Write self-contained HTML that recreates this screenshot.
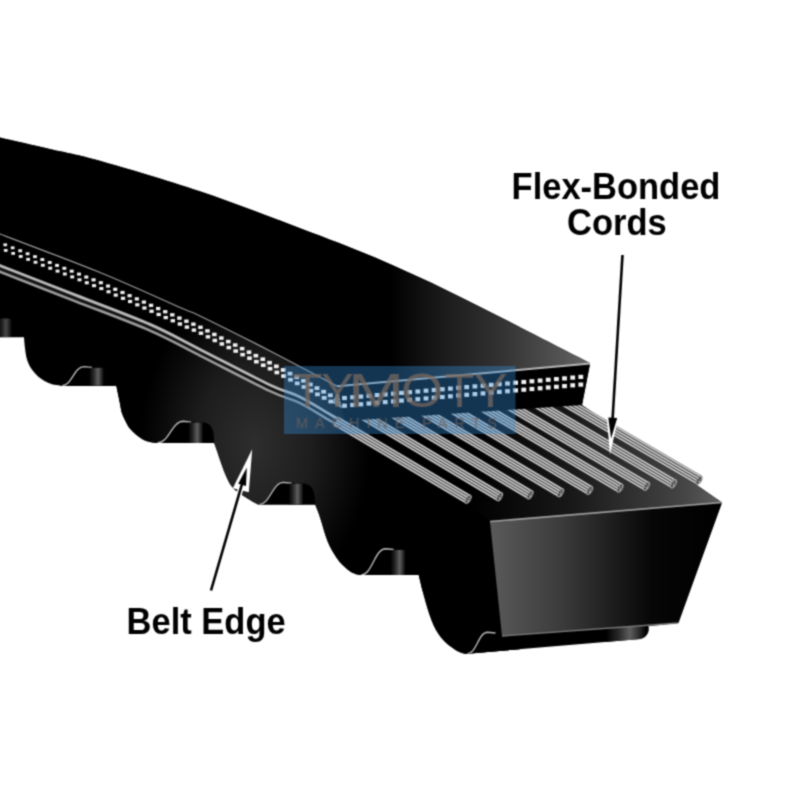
<!DOCTYPE html>
<html><head><meta charset="utf-8"><style>
html,body{margin:0;padding:0;background:#fff;}
body{width:800px;height:800px;overflow:hidden;position:relative;}
svg{position:absolute;left:0;top:0;}
.lbl{font-family:"Liberation Sans",sans-serif;font-weight:bold;fill:#000;}
.wm{font-family:"Liberation Sans",sans-serif;}
</style></head><body>
<svg width="800" height="800" viewBox="0 0 800 800">
<defs>
<linearGradient id="topg" x1="390" y1="0" x2="595" y2="0" gradientUnits="userSpaceOnUse">
<stop offset="0" stop-color="#000"/><stop offset="0.25" stop-color="#1a1a1a"/><stop offset="0.55" stop-color="#333"/><stop offset="0.85" stop-color="#555"/><stop offset="1" stop-color="#6a6a6a"/>
</linearGradient>
<radialGradient id="bodyg" cx="255" cy="445" r="100" gradientUnits="userSpaceOnUse" gradientTransform="translate(255 445) scale(1.15 1.6) translate(-255 -445)">
<stop offset="0" stop-color="#2e2e2e"/><stop offset="0.5" stop-color="#1d1d1d"/><stop offset="0.85" stop-color="#080808"/><stop offset="1" stop-color="#000"/>
</radialGradient>
<linearGradient id="frontg" x1="490" y1="0" x2="722" y2="0" gradientUnits="userSpaceOnUse">
<stop offset="0" stop-color="#5a5a5a"/><stop offset="0.3" stop-color="#3c3c3c"/><stop offset="0.55" stop-color="#1a1a1a"/><stop offset="0.7" stop-color="#060606"/><stop offset="1" stop-color="#000"/>
</linearGradient>
<linearGradient id="shelfg" x1="470" y1="0" x2="722" y2="0" gradientUnits="userSpaceOnUse">
<stop offset="0" stop-color="#000"/><stop offset="0.4" stop-color="#181818"/><stop offset="0.85" stop-color="#454545"/><stop offset="1" stop-color="#5e5e5e"/>
</linearGradient>
<linearGradient id="cordg" x1="0" y1="-5.3" x2="0" y2="5.3" gradientUnits="userSpaceOnUse"><stop offset="0.000" stop-color="#3c3c3c"/><stop offset="0.075" stop-color="#b8b8b8"/><stop offset="0.125" stop-color="#dcdcdc"/><stop offset="0.180" stop-color="#a0a0a0"/><stop offset="0.250" stop-color="#3c3c3c"/><stop offset="0.325" stop-color="#b8b8b8"/><stop offset="0.375" stop-color="#dcdcdc"/><stop offset="0.430" stop-color="#a0a0a0"/><stop offset="0.500" stop-color="#3c3c3c"/><stop offset="0.575" stop-color="#b8b8b8"/><stop offset="0.625" stop-color="#dcdcdc"/><stop offset="0.680" stop-color="#a0a0a0"/><stop offset="0.750" stop-color="#3c3c3c"/><stop offset="0.825" stop-color="#b8b8b8"/><stop offset="0.875" stop-color="#dcdcdc"/><stop offset="0.930" stop-color="#a0a0a0"/><stop offset="1.000" stop-color="#303030"/></linearGradient>
<linearGradient id="cyl" x1="0" y1="0" x2="1" y2="0">
<stop offset="0" stop-color="#000"/><stop offset="0.3" stop-color="#262626"/><stop offset="0.6" stop-color="#5e5e5e"/><stop offset="0.85" stop-color="#262626"/><stop offset="1" stop-color="#000"/>
</linearGradient>
<clipPath id="silclip"><path d="M-6,136.1 C3.3,138.2 32.3,144.8 50.0,148.9 C67.7,153.0 75.0,153.6 100.0,160.7 C125.0,167.8 166.7,180.1 200.0,191.3 C233.3,202.6 270.8,217.1 300.0,228.2 C329.2,239.2 350.0,247.0 375.0,257.6 C400.0,268.2 425.0,279.9 450.0,291.9 C475.0,303.9 501.7,317.9 525.0,329.8 C548.3,341.7 579.2,357.5 590.0,363.0 L582,405 L722,502.5 L678.5,623 L648.5,626.3 C650,633 646,638.6 637.5,639.3 L467.4,653.7 C466.8,653.7 465.8,654.1 463.8,653.5 C461.8,652.9 458.5,651.7 455.5,649.9 C452.5,648.1 448.8,645.4 446.0,642.8 C443.2,640.2 441.0,637.5 438.9,634.5 C436.8,631.5 435.1,628.4 433.5,625.0 C431.9,621.6 430.7,618.1 429.4,614.3 C428.1,610.5 427.0,606.6 425.8,602.4 C424.6,598.2 423.4,593.9 422.2,589.4 C421.1,584.8 419.3,577.3 418.7,574.9 L361.3,574.9 C360.4,574.8 357.9,574.8 356.0,574.2 C354.1,573.6 352.1,572.9 349.6,571.1 C347.1,569.3 343.6,566.3 341.1,563.6 C338.6,560.9 336.7,558.1 334.8,555.1 C332.8,552.1 330.9,548.8 329.4,545.6 C327.9,542.4 326.8,539.4 325.7,536.0 C324.6,532.6 323.6,529.1 322.5,525.4 C321.4,521.6 320.0,517.2 318.8,513.7 C317.6,510.2 315.7,506.1 315.1,504.6 L260,504.6 C259.6,504.5 258.9,504.8 257.5,504.2 C256.1,503.6 254.1,502.5 251.9,501.2 C249.7,499.9 247.0,498.3 244.4,496.6 C241.8,494.9 238.8,493.1 236.5,491.1 C234.2,489.1 232.1,487.0 230.3,484.4 C228.5,481.7 227.2,478.6 225.6,475.0 C224.0,471.4 222.4,466.7 221.0,462.8 C219.6,458.9 218.3,454.9 217.2,451.6 C216.1,448.3 214.7,444.4 214.2,443.0 L157.5,443.0 C157.0,443.0 156.9,443.2 154.7,442.8 C152.5,442.4 147.5,441.7 144.4,440.3 C141.3,438.9 138.4,436.6 135.9,434.6 C133.4,432.6 131.2,430.4 129.4,428.1 C127.6,425.8 126.5,423.1 125.2,420.6 C124.0,418.1 122.8,415.9 121.9,413.1 C121.0,410.3 120.6,406.8 120.0,403.7 C119.4,400.6 118.7,397.4 118.1,394.4 C117.5,391.4 116.6,387.1 116.3,385.7 L62,385.7 C61.6,385.7 61.6,385.8 59.9,385.5 C58.2,385.2 54.6,385.0 52.0,384.2 C49.4,383.4 46.6,382.1 44.1,380.7 C41.6,379.2 39.1,377.4 37.1,375.5 C35.1,373.6 33.4,371.4 31.9,369.4 C30.4,367.3 29.3,365.4 28.4,363.2 C27.4,361.0 26.8,358.9 26.2,356.2 C25.6,353.5 25.3,350.4 24.9,347.2 C24.5,344.0 24.1,338.9 24.0,337.2 L-5,337.2 Z"/></clipPath>
<filter id="soft" x="-0.05" y="-0.05" width="1.1" height="1.1" color-interpolation-filters="sRGB"><feConvolveMatrix order="3" kernelMatrix="0.04387 0.12171 0.04387 0.12171 0.33767 0.12171 0.04387 0.12171 0.04387" edgeMode="duplicate"/></filter>
</defs>
<g filter="url(#soft)">
<rect x="-20" y="-20" width="840" height="840" fill="#fff"/>
<path d="M-6,136.1 C3.3,138.2 32.3,144.8 50.0,148.9 C67.7,153.0 75.0,153.6 100.0,160.7 C125.0,167.8 166.7,180.1 200.0,191.3 C233.3,202.6 270.8,217.1 300.0,228.2 C329.2,239.2 350.0,247.0 375.0,257.6 C400.0,268.2 425.0,279.9 450.0,291.9 C475.0,303.9 501.7,317.9 525.0,329.8 C548.3,341.7 579.2,357.5 590.0,363.0 L582,405 L722,502.5 L678.5,623 L648.5,626.3 C650,633 646,638.6 637.5,639.3 L467.4,653.7 C466.8,653.7 465.8,654.1 463.8,653.5 C461.8,652.9 458.5,651.7 455.5,649.9 C452.5,648.1 448.8,645.4 446.0,642.8 C443.2,640.2 441.0,637.5 438.9,634.5 C436.8,631.5 435.1,628.4 433.5,625.0 C431.9,621.6 430.7,618.1 429.4,614.3 C428.1,610.5 427.0,606.6 425.8,602.4 C424.6,598.2 423.4,593.9 422.2,589.4 C421.1,584.8 419.3,577.3 418.7,574.9 L361.3,574.9 C360.4,574.8 357.9,574.8 356.0,574.2 C354.1,573.6 352.1,572.9 349.6,571.1 C347.1,569.3 343.6,566.3 341.1,563.6 C338.6,560.9 336.7,558.1 334.8,555.1 C332.8,552.1 330.9,548.8 329.4,545.6 C327.9,542.4 326.8,539.4 325.7,536.0 C324.6,532.6 323.6,529.1 322.5,525.4 C321.4,521.6 320.0,517.2 318.8,513.7 C317.6,510.2 315.7,506.1 315.1,504.6 L260,504.6 C259.6,504.5 258.9,504.8 257.5,504.2 C256.1,503.6 254.1,502.5 251.9,501.2 C249.7,499.9 247.0,498.3 244.4,496.6 C241.8,494.9 238.8,493.1 236.5,491.1 C234.2,489.1 232.1,487.0 230.3,484.4 C228.5,481.7 227.2,478.6 225.6,475.0 C224.0,471.4 222.4,466.7 221.0,462.8 C219.6,458.9 218.3,454.9 217.2,451.6 C216.1,448.3 214.7,444.4 214.2,443.0 L157.5,443.0 C157.0,443.0 156.9,443.2 154.7,442.8 C152.5,442.4 147.5,441.7 144.4,440.3 C141.3,438.9 138.4,436.6 135.9,434.6 C133.4,432.6 131.2,430.4 129.4,428.1 C127.6,425.8 126.5,423.1 125.2,420.6 C124.0,418.1 122.8,415.9 121.9,413.1 C121.0,410.3 120.6,406.8 120.0,403.7 C119.4,400.6 118.7,397.4 118.1,394.4 C117.5,391.4 116.6,387.1 116.3,385.7 L62,385.7 C61.6,385.7 61.6,385.8 59.9,385.5 C58.2,385.2 54.6,385.0 52.0,384.2 C49.4,383.4 46.6,382.1 44.1,380.7 C41.6,379.2 39.1,377.4 37.1,375.5 C35.1,373.6 33.4,371.4 31.9,369.4 C30.4,367.3 29.3,365.4 28.4,363.2 C27.4,361.0 26.8,358.9 26.2,356.2 C25.6,353.5 25.3,350.4 24.9,347.2 C24.5,344.0 24.1,338.9 24.0,337.2 L-5,337.2 Z" fill="#000"/>
<g clip-path="url(#silclip)">
<rect x="60" y="220" width="460" height="450" fill="url(#bodyg)"/>
<path d="M-6,136.1 C3.3,138.2 32.3,144.8 50.0,148.9 C67.7,153.0 75.0,153.6 100.0,160.7 C125.0,167.8 166.7,180.1 200.0,191.3 C233.3,202.6 270.8,217.1 300.0,228.2 C329.2,239.2 350.0,247.0 375.0,257.6 C400.0,268.2 425.0,279.9 450.0,291.9 C475.0,303.9 501.7,317.9 525.0,329.8 C548.3,341.7 579.2,357.5 590.0,363.0 L337,386.2 C325.8,380.3 292.8,362.7 270.0,351.0 C247.2,339.3 215.0,323.2 200.0,316.0 C185.0,308.8 196.7,314.8 180.0,307.5 C163.3,300.2 131.0,285.1 100.0,272.5 C69.0,259.9 11.7,238.5 -6.0,231.7 Z" fill="url(#topg)"/>
<!-- shelf under cords -->
<path d="M345,414 L582,405 L722,502.5 L490,521.5 Z" fill="url(#shelfg)"/>
</g>
<path d="M-6,266.3 C7.5,271.6 49.0,287.8 75.0,298.0 C101.0,308.2 129.2,318.4 150.0,327.5 C170.8,336.6 180.0,342.4 200.0,352.5 C220.0,362.6 253.3,380.1 270.0,388.0 C286.7,395.9 290.0,395.1 300.0,400.0 C310.0,404.9 321.3,412.4 330.0,417.5 C338.7,422.6 348.3,428.3 352.0,430.5" fill="none" stroke="#141414" stroke-width="9"/><path d="M-6,263.2 C7.5,268.5 49.0,284.7 75.0,294.9 C101.0,305.1 129.2,315.3 150.0,324.4 C170.8,333.5 180.0,339.3 200.0,349.4 C220.0,359.5 253.3,377.0 270.0,384.9 C286.7,392.8 290.0,392.0 300.0,396.9 C310.0,401.8 321.3,409.3 330.0,414.4 C338.7,419.5 348.3,425.2 352.0,427.4" fill="none" stroke="#b8b8b8" stroke-width="2.8"/><path d="M-6,269.40000000000003 C7.5,274.7 49.0,290.9 75.0,301.1 C101.0,311.3 129.2,321.5 150.0,330.6 C170.8,339.7 180.0,345.5 200.0,355.6 C220.0,365.7 253.3,383.2 270.0,391.1 C286.7,399.0 290.0,398.2 300.0,403.1 C310.0,408.0 321.3,415.5 330.0,420.6 C338.7,425.7 348.3,431.4 352.0,433.6" fill="none" stroke="#9a9a9a" stroke-width="2.6"/>
<g><g transform="translate(336.0,421.1) rotate(30.61)"><rect x="0" y="-5.3" width="154.0" height="10.6" fill="url(#cordg)"/><ellipse cx="153.5" cy="0" rx="2.8" ry="5.1" fill="#999"/><circle cx="153.2" cy="-2.4" r="1" fill="#333"/><circle cx="152.6" cy="0.2" r="1" fill="#333"/><circle cx="153.2" cy="2.7" r="1" fill="#333"/><circle cx="154.8" cy="-0.8" r="0.8" fill="#444"/></g><g transform="translate(334.4,398.0) rotate(30.88)"><rect x="0" y="-5.3" width="192.9" height="10.6" fill="url(#cordg)"/><ellipse cx="192.4" cy="0" rx="2.8" ry="5.1" fill="#999"/><circle cx="192.1" cy="-2.4" r="1" fill="#333"/><circle cx="191.5" cy="0.2" r="1" fill="#333"/><circle cx="192.1" cy="2.7" r="1" fill="#333"/><circle cx="193.7" cy="-0.8" r="0.8" fill="#444"/></g><g transform="translate(367.7,398.0) rotate(30.79)"><rect x="0" y="-5.3" width="189.5" height="10.6" fill="url(#cordg)"/><ellipse cx="189.0" cy="0" rx="2.8" ry="5.1" fill="#999"/><circle cx="188.7" cy="-2.4" r="1" fill="#333"/><circle cx="188.1" cy="0.2" r="1" fill="#333"/><circle cx="188.7" cy="2.7" r="1" fill="#333"/><circle cx="190.3" cy="-0.8" r="0.8" fill="#444"/></g><g transform="translate(401.1,398.0) rotate(30.71)"><rect x="0" y="-5.3" width="186.0" height="10.6" fill="url(#cordg)"/><ellipse cx="185.5" cy="0" rx="2.8" ry="5.1" fill="#999"/><circle cx="185.2" cy="-2.4" r="1" fill="#333"/><circle cx="184.6" cy="0.2" r="1" fill="#333"/><circle cx="185.2" cy="2.7" r="1" fill="#333"/><circle cx="186.8" cy="-0.8" r="0.8" fill="#444"/></g><g transform="translate(433.8,398.0) rotate(30.63)"><rect x="0" y="-5.3" width="181.6" height="10.6" fill="url(#cordg)"/><ellipse cx="181.1" cy="0" rx="2.8" ry="5.1" fill="#999"/><circle cx="180.8" cy="-2.4" r="1" fill="#333"/><circle cx="180.2" cy="0.2" r="1" fill="#333"/><circle cx="180.8" cy="2.7" r="1" fill="#333"/><circle cx="182.4" cy="-0.8" r="0.8" fill="#444"/></g><g transform="translate(467.4,398.0) rotate(30.54)"><rect x="0" y="-5.3" width="177.7" height="10.6" fill="url(#cordg)"/><ellipse cx="177.2" cy="0" rx="2.8" ry="5.1" fill="#999"/><circle cx="176.9" cy="-2.4" r="1" fill="#333"/><circle cx="176.3" cy="0.2" r="1" fill="#333"/><circle cx="176.9" cy="2.7" r="1" fill="#333"/><circle cx="178.5" cy="-0.8" r="0.8" fill="#444"/></g><g transform="translate(496.5,398.0) rotate(30.46)"><rect x="0" y="-5.3" width="174.6" height="10.6" fill="url(#cordg)"/><ellipse cx="174.1" cy="0" rx="2.8" ry="5.1" fill="#999"/><circle cx="173.8" cy="-2.4" r="1" fill="#333"/><circle cx="173.2" cy="0.2" r="1" fill="#333"/><circle cx="173.8" cy="2.7" r="1" fill="#333"/><circle cx="175.4" cy="-0.8" r="0.8" fill="#444"/></g><g transform="translate(527.2,398.0) rotate(30.37)"><rect x="0" y="-5.3" width="170.1" height="10.6" fill="url(#cordg)"/><ellipse cx="169.6" cy="0" rx="2.8" ry="5.1" fill="#999"/><circle cx="169.3" cy="-2.4" r="1" fill="#333"/><circle cx="168.7" cy="0.2" r="1" fill="#333"/><circle cx="169.3" cy="2.7" r="1" fill="#333"/><circle cx="170.9" cy="-0.8" r="0.8" fill="#444"/></g><g transform="translate(558.2,398.0) rotate(30.28)"><rect x="0" y="-5.3" width="163.6" height="10.6" fill="url(#cordg)"/><ellipse cx="163.1" cy="0" rx="2.8" ry="5.1" fill="#999"/><circle cx="162.8" cy="-2.4" r="1" fill="#333"/><circle cx="162.2" cy="0.2" r="1" fill="#333"/><circle cx="162.8" cy="2.7" r="1" fill="#333"/><circle cx="164.4" cy="-0.8" r="0.8" fill="#444"/></g></g>
<!-- cut face black band -->
<path d="M337,387.2 L590,364.5 L582,405 L345,421 Z" fill="#000"/>
<!-- edges -->
<path d="M-6,231.7 C11.7,238.5 69.0,259.9 100.0,272.5 C131.0,285.1 163.3,300.2 180.0,307.5 C196.7,314.8 185.0,308.8 200.0,316.0 C215.0,323.2 247.2,339.3 270.0,351.0 C292.8,362.7 325.8,380.3 337.0,386.2" fill="none" stroke="#9a9a9a" stroke-width="1.3"/>
<path d="M337,386.2 L590,363.6" stroke="#b8b8b8" stroke-width="2"/>
<g fill="#f2f2f2"><rect x="3.4" y="243.4" width="3.7" height="2.8"/><rect x="3.9" y="249.0" width="3.7" height="2.8"/><rect x="10.8" y="246.4" width="3.7" height="2.8"/><rect x="11.3" y="252.0" width="3.7" height="2.8"/><rect x="18.3" y="249.3" width="3.8" height="2.9"/><rect x="18.8" y="255.0" width="3.8" height="2.9"/><rect x="25.7" y="252.3" width="3.8" height="2.9"/><rect x="26.2" y="257.9" width="3.8" height="2.9"/><rect x="33.1" y="255.2" width="3.8" height="2.9"/><rect x="33.6" y="260.8" width="3.8" height="2.9"/><rect x="40.4" y="258.1" width="3.9" height="2.9"/><rect x="40.9" y="263.8" width="3.9" height="2.9"/><rect x="47.8" y="261.0" width="3.9" height="3.0"/><rect x="48.3" y="266.7" width="3.9" height="3.0"/><rect x="55.1" y="263.9" width="3.9" height="3.0"/><rect x="55.6" y="269.6" width="3.9" height="3.0"/><rect x="62.4" y="266.8" width="3.9" height="3.0"/><rect x="62.9" y="272.5" width="3.9" height="3.0"/><rect x="69.7" y="269.7" width="4.0" height="3.0"/><rect x="70.2" y="275.4" width="4.0" height="3.0"/><rect x="77.0" y="272.6" width="4.0" height="3.0"/><rect x="77.5" y="278.3" width="4.0" height="3.0"/><rect x="84.3" y="275.5" width="4.0" height="3.1"/><rect x="84.8" y="281.2" width="4.0" height="3.1"/><rect x="91.5" y="278.3" width="4.1" height="3.1"/><rect x="92.0" y="284.1" width="4.1" height="3.1"/><rect x="98.8" y="281.2" width="4.1" height="3.1"/><rect x="99.3" y="287.0" width="4.1" height="3.1"/><rect x="106.0" y="284.5" width="4.1" height="3.1"/><rect x="106.5" y="290.2" width="4.1" height="3.1"/><rect x="113.2" y="287.7" width="4.1" height="3.2"/><rect x="113.7" y="293.5" width="4.1" height="3.2"/><rect x="120.4" y="290.9" width="4.2" height="3.2"/><rect x="120.9" y="296.7" width="4.2" height="3.2"/><rect x="127.5" y="294.1" width="4.2" height="3.2"/><rect x="128.0" y="299.9" width="4.2" height="3.2"/><rect x="134.7" y="297.3" width="4.2" height="3.2"/><rect x="135.2" y="303.2" width="4.2" height="3.2"/><rect x="141.8" y="300.5" width="4.2" height="3.2"/><rect x="142.3" y="306.4" width="4.2" height="3.2"/><rect x="148.9" y="303.7" width="4.3" height="3.3"/><rect x="149.4" y="309.6" width="4.3" height="3.3"/><rect x="156.0" y="306.9" width="4.3" height="3.3"/><rect x="156.5" y="312.8" width="4.3" height="3.3"/><rect x="163.1" y="310.1" width="4.3" height="3.3"/><rect x="163.6" y="315.9" width="4.3" height="3.3"/><rect x="170.1" y="313.2" width="4.4" height="3.3"/><rect x="170.6" y="319.1" width="4.4" height="3.3"/><rect x="177.2" y="316.4" width="4.4" height="3.4"/><rect x="177.7" y="322.3" width="4.4" height="3.4"/><rect x="184.2" y="319.5" width="4.4" height="3.4"/><rect x="184.7" y="325.4" width="4.4" height="3.4"/><rect x="191.2" y="322.5" width="4.4" height="3.4"/><rect x="191.7" y="328.4" width="4.4" height="3.4"/><rect x="198.2" y="325.6" width="4.5" height="3.4"/><rect x="198.7" y="331.5" width="4.5" height="3.4"/><rect x="205.2" y="329.2" width="4.5" height="3.4"/><rect x="205.7" y="335.1" width="4.5" height="3.4"/><rect x="212.1" y="332.7" width="4.5" height="3.5"/><rect x="212.6" y="338.7" width="4.5" height="3.5"/><rect x="219.1" y="336.3" width="4.5" height="3.5"/><rect x="219.6" y="342.2" width="4.5" height="3.5"/><rect x="226.0" y="339.8" width="4.6" height="3.5"/><rect x="226.5" y="345.8" width="4.6" height="3.5"/><rect x="232.9" y="343.3" width="4.6" height="3.5"/><rect x="233.4" y="349.3" width="4.6" height="3.5"/><rect x="239.8" y="346.9" width="4.6" height="3.5"/><rect x="240.3" y="352.9" width="4.6" height="3.5"/><rect x="246.7" y="350.4" width="4.6" height="3.6"/><rect x="247.2" y="356.4" width="4.6" height="3.6"/><rect x="253.5" y="353.9" width="4.7" height="3.6"/><rect x="254.0" y="359.9" width="4.7" height="3.6"/><rect x="260.4" y="357.4" width="4.7" height="3.6"/><rect x="260.9" y="363.4" width="4.7" height="3.6"/><rect x="267.2" y="360.9" width="4.7" height="3.6"/><rect x="267.7" y="366.9" width="4.7" height="3.6"/><rect x="274.0" y="364.5" width="4.7" height="3.7"/><rect x="274.5" y="370.6" width="4.7" height="3.7"/><rect x="280.8" y="368.1" width="4.8" height="3.7"/><rect x="281.3" y="374.2" width="4.8" height="3.7"/><rect x="287.6" y="371.8" width="4.8" height="3.7"/><rect x="288.1" y="377.9" width="4.8" height="3.7"/><rect x="294.3" y="375.4" width="4.8" height="3.7"/><rect x="294.8" y="381.5" width="4.8" height="3.7"/><rect x="301.1" y="379.0" width="4.8" height="3.7"/><rect x="301.6" y="385.1" width="4.8" height="3.7"/><rect x="307.8" y="382.6" width="4.9" height="3.8"/><rect x="308.3" y="388.8" width="4.9" height="3.8"/><rect x="314.5" y="386.2" width="4.9" height="3.8"/><rect x="315.0" y="392.4" width="4.9" height="3.8"/><rect x="321.2" y="389.8" width="4.9" height="3.8"/><rect x="321.7" y="396.0" width="4.9" height="3.8"/><rect x="327.9" y="393.4" width="4.9" height="3.8"/><rect x="328.4" y="399.6" width="4.9" height="3.8"/><rect x="342.1" y="395.9" width="4.8" height="4.2"/><rect x="342.1" y="403.6" width="4.8" height="4.2"/><rect x="350.2" y="395.2" width="4.8" height="4.2"/><rect x="350.2" y="402.9" width="4.8" height="4.2"/><rect x="358.4" y="394.5" width="4.8" height="4.2"/><rect x="358.4" y="402.2" width="4.8" height="4.2"/><rect x="366.5" y="393.7" width="4.8" height="4.2"/><rect x="366.5" y="401.4" width="4.8" height="4.2"/><rect x="374.7" y="393.0" width="4.8" height="4.2"/><rect x="374.7" y="400.7" width="4.8" height="4.2"/><rect x="382.8" y="392.3" width="4.8" height="4.2"/><rect x="382.8" y="400.0" width="4.8" height="4.2"/><rect x="391.0" y="391.6" width="4.8" height="4.2"/><rect x="391.0" y="399.3" width="4.8" height="4.2"/><rect x="399.1" y="390.8" width="4.8" height="4.2"/><rect x="399.1" y="398.5" width="4.8" height="4.2"/><rect x="407.3" y="390.1" width="4.8" height="4.2"/><rect x="407.3" y="397.8" width="4.8" height="4.2"/><rect x="415.4" y="389.4" width="4.8" height="4.2"/><rect x="415.4" y="397.1" width="4.8" height="4.2"/><rect x="423.6" y="388.6" width="4.8" height="4.2"/><rect x="423.6" y="396.3" width="4.8" height="4.2"/><rect x="431.7" y="387.9" width="4.8" height="4.2"/><rect x="431.7" y="395.6" width="4.8" height="4.2"/><rect x="439.9" y="387.2" width="4.8" height="4.2"/><rect x="439.9" y="394.9" width="4.8" height="4.2"/><rect x="448.0" y="386.5" width="4.8" height="4.2"/><rect x="448.0" y="394.2" width="4.8" height="4.2"/><rect x="456.2" y="385.7" width="4.8" height="4.2"/><rect x="456.2" y="393.4" width="4.8" height="4.2"/><rect x="464.3" y="385.0" width="4.8" height="4.2"/><rect x="464.3" y="392.7" width="4.8" height="4.2"/><rect x="472.5" y="384.3" width="4.8" height="4.2"/><rect x="472.5" y="392.0" width="4.8" height="4.2"/><rect x="480.6" y="383.6" width="4.8" height="4.2"/><rect x="480.6" y="391.3" width="4.8" height="4.2"/><rect x="488.8" y="382.8" width="4.8" height="4.2"/><rect x="488.8" y="390.5" width="4.8" height="4.2"/><rect x="496.9" y="382.1" width="4.8" height="4.2"/><rect x="496.9" y="389.8" width="4.8" height="4.2"/><rect x="505.1" y="381.4" width="4.8" height="4.2"/><rect x="505.1" y="389.1" width="4.8" height="4.2"/><rect x="513.2" y="380.6" width="4.8" height="4.2"/><rect x="513.2" y="388.3" width="4.8" height="4.2"/><rect x="521.4" y="379.9" width="4.8" height="4.2"/><rect x="521.4" y="387.6" width="4.8" height="4.2"/><rect x="529.5" y="379.2" width="4.8" height="4.2"/><rect x="529.5" y="386.9" width="4.8" height="4.2"/><rect x="537.7" y="378.5" width="4.8" height="4.2"/><rect x="537.7" y="386.2" width="4.8" height="4.2"/><rect x="545.8" y="377.7" width="4.8" height="4.2"/><rect x="545.8" y="385.4" width="4.8" height="4.2"/><rect x="554.0" y="377.0" width="4.8" height="4.2"/><rect x="554.0" y="384.7" width="4.8" height="4.2"/><rect x="562.1" y="376.3" width="4.8" height="4.2"/><rect x="562.1" y="384.0" width="4.8" height="4.2"/><rect x="570.3" y="375.5" width="4.8" height="4.2"/><rect x="570.3" y="383.2" width="4.8" height="4.2"/><rect x="578.4" y="374.8" width="4.8" height="4.2"/><rect x="578.4" y="382.5" width="4.8" height="4.2"/></g>
<g clip-path="url(#silclip)"><path d="M62,385.7 C71.9,385.7 74.1,366.6 84,366.6 L101.0,367.4 C113.3,367.8 116.3,372.3 116.3,385.7 Z" fill="#000"/><path d="M62,385.7 C71.9,385.7 74.1,366.6 84,366.6 L92.0,367.4" fill="none" stroke="#b8b8b8" stroke-width="1.4"/><rect x="89.0" y="367.8" width="15" height="17.9" fill="url(#cyl)"/><path d="M157.5,443.0 C169.1,443.0 171.7,421.3 183.25,421.3 L200.2,422.1 C211.2,422.5 214.2,427.8 214.2,443.0 Z" fill="#000"/><path d="M157.5,443.0 C169.1,443.0 171.7,421.3 183.25,421.3 L191.2,422.1" fill="none" stroke="#b8b8b8" stroke-width="1.4"/><rect x="188.2" y="422.5" width="15" height="20.5" fill="url(#cyl)"/><path d="M259,504.6 C270.0,504.6 272.5,482.4 283.5,482.4 L300.5,483.2 C312.1,483.6 315.1,489.1 315.1,504.6 Z" fill="#000"/><path d="M259,504.6 C270.0,504.6 272.5,482.4 283.5,482.4 L291.5,483.2" fill="none" stroke="#b8b8b8" stroke-width="1.4"/><rect x="288.5" y="483.6" width="15" height="21.0" fill="url(#cyl)"/><path d="M361.3,574.9 C372.2,574.9 374.7,548.7 385.6,548.7 L402.6,549.5 C415.7,549.9 418.7,556.6 418.7,574.9 Z" fill="#000"/><path d="M361.3,574.9 C372.2,574.9 374.7,548.7 385.6,548.7 L393.6,549.5" fill="none" stroke="#b8b8b8" stroke-width="1.4"/><rect x="390.6" y="549.9" width="15" height="25.0" fill="url(#cyl)"/><path d="M467.4,653.7 C476.4,653.7 478.5,632.2 487.5,632.2 L504.5,633.0 C517.0,633.4 520.0,638.7 520,653.7 Z" fill="#000"/><path d="M467.4,653.7 C476.4,653.7 478.5,632.2 487.5,632.2 L495.5,633.0" fill="none" stroke="#b8b8b8" stroke-width="1.4"/><rect x="-3" y="318.5" width="15" height="19" rx="3" fill="url(#cyl)" opacity="0.75"/></g>
<!-- bottom strip highlight -->
<g clip-path="url(#silclip)"><rect x="606" y="624" width="40" height="18" fill="url(#cyl)"/></g>
<!-- front face -->
<path d="M490,521.5 L722,502.5 L678,623 L502,636 Z" fill="url(#frontg)"/>
<path d="M490,521.5 L722,502.5" stroke="#a0a0a0" stroke-width="1.6"/>
<path d="M502,636 L678,623" stroke="#7a7a7a" stroke-width="1.3"/>
<!-- watermark -->
<rect x="284" y="366" width="231.5" height="68" fill="rgb(54,143,222)" fill-opacity="0.37"/>
<g fill="#7a6a5e" fill-opacity="0.72" font-size="48.5" text-anchor="middle"><text class="wm" transform="translate(307.5,407.2) scale(1.0,1)">T</text><text class="wm" transform="translate(337.5,407.2) scale(1.0,1)">Y</text><text class="wm" transform="translate(376,407.2) scale(1.4,1)">M</text><text class="wm" transform="translate(422,407.2) scale(1.12,1)">O</text><text class="wm" transform="translate(459.5,407.2) scale(1.0,1)">T</text><text class="wm" transform="translate(490.5,407.2) scale(1.05,1)">Y</text></g>
<text class="wm" x="296" y="427.5" font-size="14.5" fill="#6e6058" fill-opacity="0.75" textLength="201" lengthAdjust="spacing">MACHINE PARTS</text>
<!-- arrows -->
<line x1="622.5" y1="255" x2="612.5" y2="420" stroke="#000" stroke-width="2.6"/>
<path d="M606.8,417.8 L618.2,418.4 L610,454.5 Z" fill="#fff"/>
<path d="M608.3,417.6 L617.2,418 L611.1,438.5 Z" fill="#000"/>
<line x1="211" y1="590.5" x2="241.5" y2="486" stroke="#fff" stroke-width="5.5"/>
<path d="M252.2,449.2 L232.8,488.3 L248.8,492.2 Z" fill="#fff"/>
<line x1="211" y1="590.5" x2="242" y2="484" stroke="#000" stroke-width="2.6"/>
<path d="M246.8,467.5 L238.2,483.8 L246,486 Z" fill="#000"/>
<text class="lbl" transform="translate(511.6,199.2) scale(1,1.045)" font-size="34.5">Flex-Bonded</text>
<text class="lbl" transform="translate(567,235.2) scale(1,1.045)" font-size="34.5">Cords</text>
<text class="lbl" transform="translate(126.6,634.1) scale(1,1.045)" font-size="34.5">Belt Edge</text>
</g>
</svg>
</body></html>
